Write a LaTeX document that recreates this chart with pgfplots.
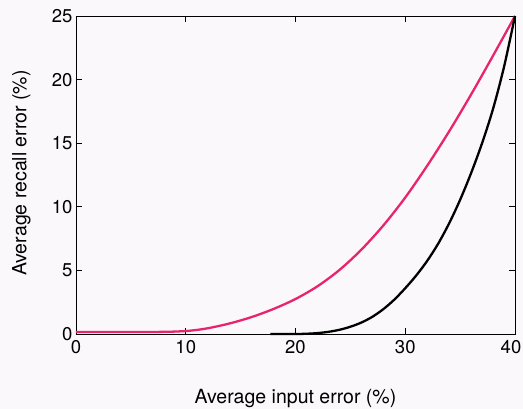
\documentclass[border=0pt]{standalone}
\usepackage{fontspec}
\setmainfont{TeX Gyre Heros}
\usepackage{pgfplots}
\pgfplotsset{compat=1.18}
\definecolor{curvepink}{RGB}{232,36,110}
\definecolor{bgc}{RGB}{251,248,252}
\begin{document}
\begin{tikzpicture}
\fill[bgc] (-76bp,-75bp) rectangle (447bp,334bp);
\useasboundingbox (-76bp,-75bp) rectangle (447bp,334bp);
\begin{axis}[
  at={(0,0)}, anchor=south west,
  scale only axis,
  width=439bp, height=318bp,
  xmin=0, xmax=40, ymin=0, ymax=25,
  xtick={0,10,20,30}, ytick={0,5,10,15,20,25},
  extra x ticks={40},
  extra x tick style={xticklabel style={xshift=-4bp}},
  tick align=inside,
  major tick length=6bp,
  tick style={line width=0.9pt, black},
  axis line style={line width=0.9pt},
  /pgf/number format/assume math mode=true,
  ticklabel style={font=\fontsize{18.5bp}{20bp}\selectfont},
  xticklabel style={yshift=-3bp},
  clip=false,
]
\addplot[curvepink, line width=2.3pt, smooth, tension=0.5] coordinates {
(0,0.15) (4,0.15) (7,0.16) (9,0.19) (10.5,0.27) (12,0.45) (14,0.83)
(16,1.33) (18,1.97) (20,2.75) (22,3.75) (24,5.03) (26,6.63) (28,8.53)
(30,10.73) (32,13.23) (34,15.93) (36,18.83) (38,21.88) (40,25)};
\addplot[black, line width=2.3pt, smooth, tension=0.5] coordinates {
(17.7,0) (20,0) (21,0.02) (22,0.07) (23,0.17) (24,0.33) (25,0.57)
(26,0.9) (27,1.35) (28,1.95) (29,2.7) (30,3.6) (31,4.6) (32,5.75)
(33,7.1) (34,8.7) (35,10.55) (36,12.65) (37,15.0) (38,17.7)
(39,21.0) (40,25)};
\end{axis}
\node[anchor=base, font=\fontsize{19.5bp}{21bp}\selectfont] at (219.5bp,-69.7bp) {Average input error (\%)};
\node[anchor=base, rotate=90, font=\fontsize{19.5bp}{21bp}\selectfont] at (-49.5bp,161bp) {Average recall error (\%)};
\end{tikzpicture}
\end{document}
